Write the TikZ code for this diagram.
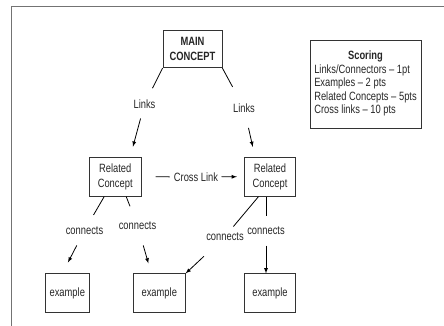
\documentclass[tikz,border=0pt]{standalone}
\usepackage{fontspec}
\setmainfont[FakeStretch=0.78]{Liberation Sans}
\begin{document}
\begin{tikzpicture}
  [x=1pt,y=-1pt,
   box/.style={draw=black!80,line width=0.8pt,inner sep=0pt,minimum height=39pt,
     align=center,text=black!85,font=\fontsize{12}{15}\selectfont},
   word/.style={inner sep=0pt,text=black!85,font=\fontsize{12}{13}\selectfont},
   link/.style={line width=0.8pt},
   frame/.style={draw=black!55,line width=1pt}]
  \useasboundingbox (0,0) rectangle (444,326);
  \draw [frame] (11.7,326) |- (444,6.7);

  \node (main) at (192.5,49.2) [box,minimum width=59pt,minimum height=37pt,
    font=\fontsize{12}{15}\selectfont\bfseries] {MAIN\\CONCEPT};
  \node (scoring) at (365.5,84.2) [box,minimum width=111pt,minimum height=88pt,
    font=\fontsize{12}{13.5}\selectfont]
    {\begin{tabular}{@{}l@{}}
       \multicolumn{1}{@{}c@{}}{\bfseries Scoring}\\
       Links/Connectors -- 1pt\\
       Examples -- 2 pts\\
       Related Concepts -- 5pts\\
       Cross links -- 10 pts
     \end{tabular}};

  \node (rel1) at (115.2,176.7) [box,minimum width=52pt] {Related\\Concept};
  \node (rel2) at (270,176.7) [box,minimum width=51.4pt] {Related\\Concept};

  \node (ex1) at (67.3,293.3) [box,minimum width=44pt] {example};
  \node (ex2) at (159.3,293.3) [box,minimum width=52pt] {example};
  \node (ex3) at (270,293.3) [box,minimum width=51.4pt] {example};

  \node (linkL) at (144.5,104) [word] {Links};
  \node (linkR) at (244,108) [word] {Links};
  \node (cross) at (196,177) [word] {Cross Link};
  \node (connL) at (84.5,230.5) [word] {connects};
  \node (connM) at (137.5,225.5) [word] {connects};
  \node (connR) at (225,236.5) [word] {connects};
  \node (connD) at (266,230.5) [word] {connects};

  % main concept down to the two related concepts
  \draw [link,shorten >=17.7pt] (main.south west) to (linkL.center);
  \draw [link,-latex,shorten <=15pt,shorten >=10.5pt] (linkL.center) to ([xshift=15pt]rel1.north);
  \draw [link,shorten >=24pt] (main.south east) to (linkR.center);
  \draw [link,-latex,shorten <=20.4pt,shorten >=10.2pt] (linkR.center) to ([xshift=-15pt]rel2.north);

  % cross link
  \draw [link,shorten <=14pt,shorten >=26.5pt] (rel1.east) to (cross.center);
  \draw [link,-latex,shorten <=25.5pt,shorten >=7pt] (cross.center) to (rel2.west);

  % related concepts down to the examples
  \draw [link,shorten >=18pt] ([xshift=-11pt]rel1.south) to (connL.center);
  \draw [link,-latex,shorten <=16.8pt,shorten >=12.3pt] (connL.center) to ([xshift=-5pt]ex1.north);
  \draw [link,shorten >=20.6pt] ([xshift=11pt]rel1.south) to (connM.center);
  \draw [link,-latex,shorten <=20.8pt,shorten >=10.4pt] (connM.center) to ([xshift=-8pt]ex2.north);
  \draw [link,shorten >=13pt] ([xshift=-11.5pt]rel2.south) to (connR.center);
  \draw [link,-latex,shorten <=29pt] (connR.center) to (ex2.north east);
  \draw [link,shorten >=15pt] ([xshift=-4pt]rel2.south) to (connD.center);
  \draw [link,-latex,shorten <=15pt] (connD.center) to ([xshift=-4pt]ex3.north);
\end{tikzpicture}
\end{document}
